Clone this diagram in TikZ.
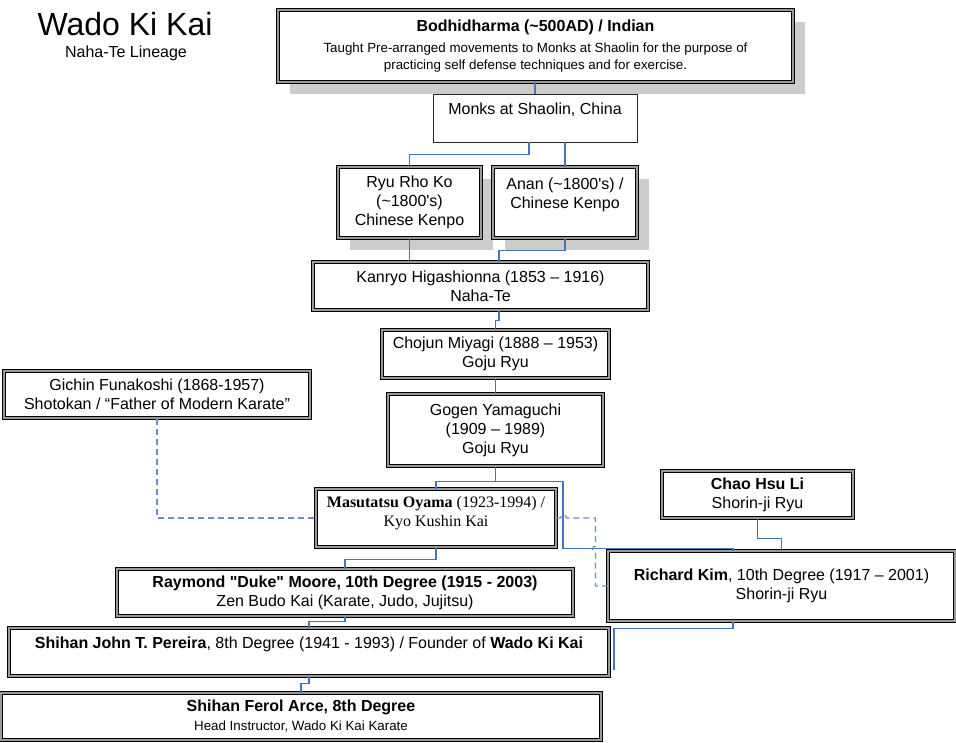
\documentclass[tikz,border=0pt]{standalone}
\usepackage{fontspec}
\setmainfont{Liberation Sans}
\newfontfamily\timesfont{Liberation Serif}
\usetikzlibrary{shadows}
\definecolor{linkblue}{RGB}{70,118,184}
\definecolor{dashblue}{RGB}{105,142,200}

\begin{document}
\begin{tikzpicture}[x=0.75pt, y=-0.75pt,
	box_node/.style={draw=black, double=black!40, double distance=0.9pt, line width=0.75pt, fill=white, align=center, inner sep=2pt, font=\fontsize{12}{14.25}\selectfont},
	plain_node/.style={draw=black!85, line width=0.7pt, fill=white, align=center, inner sep=2pt, font=\fontsize{12}{14.25}\selectfont},
	shade_node/.style={box_node, general shadow={draw=none, fill=black!20, shadow xshift=9pt, shadow yshift=-9pt}},
	link/.style={draw=linkblue, line width=0.9pt},
	dash_link/.style={draw=dashblue, line width=0.9pt, dash pattern=on 4.5pt off 3pt}]

	\useasboundingbox (0,0) rectangle (956,742);

	\node[font=\fontsize{24}{28}\selectfont] (15) at (125, 24) {Wado Ki Kai};
	\node[font=\fontsize{12}{14}\selectfont] (16) at (126, 53) {Naha-Te Lineage};

	\node[shade_node, minimum width=386.25pt, minimum height=54pt] (1) at (535.5, 46) {\textbf{Bodhidharma (\textasciitilde500AD) / Indian}\\[1pt]{\fontsize{10}{12}\selectfont Taught Pre-arranged movements to Monks at Shaolin for the purpose of}\\[-1.5pt]{\fontsize{10}{12}\selectfont practicing self defense techniques and for exercise.}};
	\node[plain_node, minimum width=153pt, minimum height=36pt] (2) at (535, 118) {Monks at Shaolin, China\\~};
	\node[shade_node, minimum width=107.25pt, minimum height=53.25pt] (3) at (409.5, 202.5) {Ryu Rho Ko\\(\textasciitilde1800\textquotesingle s)\\Chinese Kenpo};
	\node[shade_node, minimum width=108pt, minimum height=53.25pt] (4) at (565, 202.5) {Anan (\textasciitilde1800\textquotesingle s) /\\Chinese Kenpo\\~};
	\node[box_node, minimum width=251.25pt, minimum height=36pt] (5) at (480.5, 286) {Kanryo Higashionna (1853 – 1916)\\Naha-Te};
	\node[box_node, minimum width=170.25pt, minimum height=36pt] (6) at (495.5, 354) {Chojun Miyagi (1888 – 1953)\\Goju Ryu};
	\node[box_node, minimum width=161.25pt, minimum height=54pt] (7) at (495.5, 430) {Gogen Yamaguchi\\(1909 – 1989)\\Goju Ryu};
	\node[box_node, minimum width=229.5pt, minimum height=35.25pt] (8) at (157, 394.5) {Gichin Funakoshi (1868-1957)\\Shotokan / “Father of Modern Karate”};
	\node[box_node, font=\timesfont\fontsize{12}{14.25}\selectfont, minimum width=180pt, minimum height=43.5pt] (9) at (436, 518) {\textbf{Masutatsu Oyama} (1923-1994) /\\Kyo Kushin Kai\\[-4pt]~};
	\node[box_node, minimum width=143.25pt, minimum height=35.25pt] (10) at (757.5, 494.5) {\textbf{Chao Hsu Li}\\Shorin-ji Ryu};
	\node[box_node, minimum width=260.25pt, minimum height=52.5pt] (11) at (781.5, 586) {\textbf{Richard Kim}, 10th Degree (1917 – 2001)\\Shorin-ji Ryu};
	\node[box_node, minimum width=342pt, minimum height=35.25pt] (12) at (345, 592.5) {\textbf{Raymond \textquotedbl Duke\textquotedbl{} Moore, 10th Degree (1915 - 2003)}\\Zen Budo Kai (Karate, Judo, Jujitsu)};
	\node[box_node, minimum width=450pt, minimum height=36pt] (13) at (309, 652) {\textbf{Shihan John T. Pereira}, 8th Degree (1941 - 1993) / Founder of \textbf{Wado Ki Kai}\\~};
	\node[box_node, minimum width=450pt, minimum height=35.25pt] (14) at (301, 716.5) {\textbf{Shihan Ferol Arce, 8th Degree}\\{\fontsize{10}{12}\selectfont Head Instructor, Wado Ki Kai Karate}};

	\coordinate (17) at (614, 670);

	\draw[link] (1.south -| 2.north) -- (2.north);
	\draw[link] ([xshift=-4.5pt]2.south) -- ++(0,12) -| (3.north);
	\draw[link] (2.south -| 4.north) -- (4.north);
	\draw[link] (3.south) -- (3.south |- 5.north);
	\draw[link] (4.south) -- ++(0,12) -| ([xshift=13.9pt]5.north);
	\draw[link] ([xshift=13.9pt]5.south) -- ++(0,10) -| (6.north);
	\draw[link] (6.south) -- (7.north);
	\draw[link] (7.south) -- ++(0,15) -| (9.north);
	\draw[link] (7.south) -- ++(0,15) -- ++(67.5,0) |- ([xshift=-36.4pt, yshift=1.5pt]11.north) -- ([xshift=-36.4pt]11.north);
	\draw[link] (10.south) -- ++(0,20) -| (11.north);
	\draw[link] (9.south) -- ++(0,12) -| (12.north);
	\draw[link] (12.south) -- ++(0,5) -| (13.north);
	\draw[link] (13.south) -- ++(0,7) -| (14.north);
	\draw[link] ([xshift=-36.4pt]11.south) -- ++(0,7) -| (17);

	\draw[dash_link] (8.south) |- (9.west);
	\draw[dash_link] (9.east) -- ++(4,0) arc (180:360:3) -- ++(29,0) -- ++(0,28) arc (270:90:3) |- (11.west);

\end{tikzpicture}
\end{document}
